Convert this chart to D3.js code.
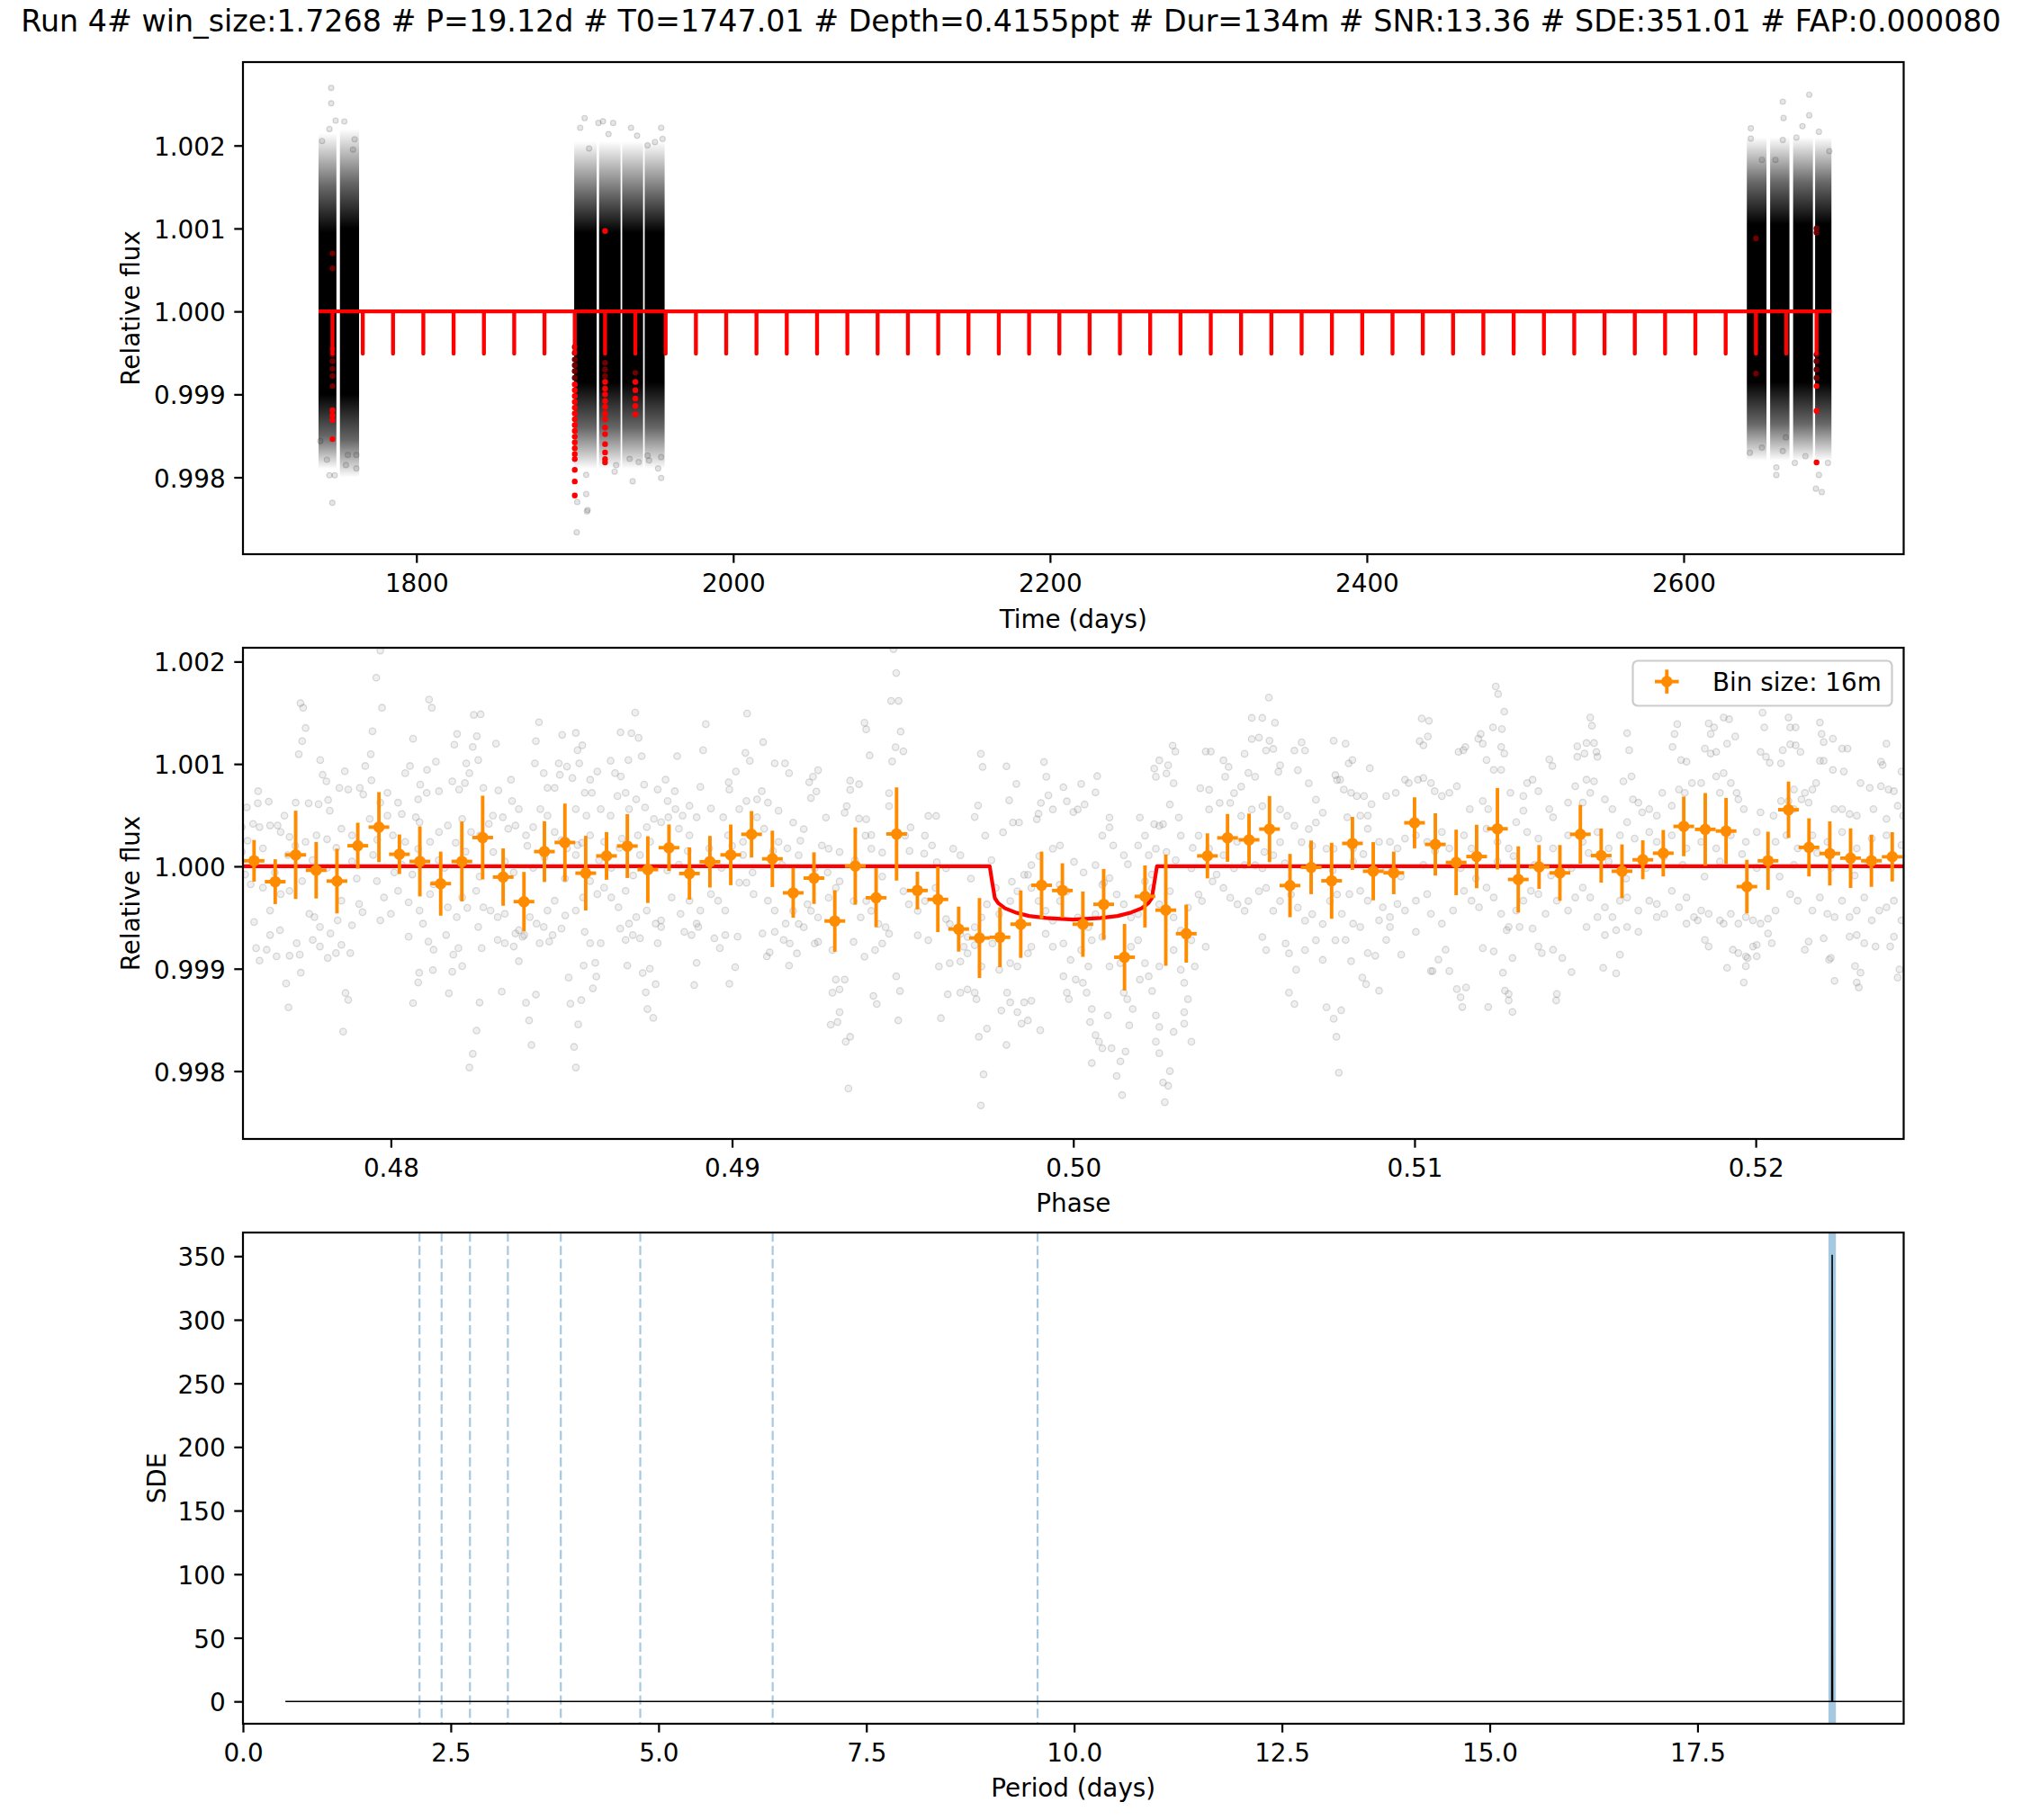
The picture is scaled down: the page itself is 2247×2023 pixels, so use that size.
<!DOCTYPE html>
<html><head><meta charset="utf-8">
<script src="https://cdn.jsdelivr.net/npm/d3@7"></script>
<style>body{margin:0;background:#fff} svg text{font-family:"DejaVu Sans",sans-serif;fill:#000}</style>
</head><body><svg id="c" width="2247" height="2023"></svg>
<script>
// ---------------- DATA ----------------
const titleText = "Run 4# win_size:1.7268 # P=19.12d # T0=1747.01 # Depth=0.4155ppt # Dur=134m # SNR:13.36 # SDE:351.01 # FAP:0.000080";

// top panel: observed blocks [tStart, tEnd, outerLo, midLo, coreLo, coreHi, midHi, outerHi] (ppm rel. to 1)
const lcBlocks = [
 [1738.2,1749.5,-1900,-1500,-1000,950,1500,2150],
 [1751.7,1763.8,-2000,-1550,-1000,1000,1550,2200],
 [1899.6,1913.8,-1900,-1400,-850,950,1400,2050],
 [1915.3,1928.9,-1900,-1400,-850,950,1400,2050],
 [1929.9,1943.1,-1900,-1400,-850,950,1400,2050],
 [1944.1,1956.7,-1900,-1400,-850,950,1400,2050],
 [2639.9,2652.3,-1800,-1350,-850,1050,1550,2100],
 [2654.6,2666.8,-1800,-1350,-850,1050,1550,2100],
 [2669.1,2681.6,-1800,-1350,-850,1050,1550,2100],
 [2683.0,2693.3,-1800,-1350,-850,1050,1550,2100]
];
// sparse outlier points [t, ppm]
const lcSparse = [
 [1746.2,2695],[1746.2,2509],[1749.0,2301],[1754.5,2290],[1740.4,2054],[1761.0,2075],[1745.1,2199],[1760.0,1950],[1746.9,-2307],[1745.1,-1976],[1748.4,-1976],[1762.1,-1893],[1755.5,-1852],[1739.3,-1562],[1762.1,-1730],[1756.7,-1730],[1743.5,-1788],
 [1906.2,2331],[1903.4,2214],[1914.9,2272],[1917.8,2292],[1924.2,2272],[1935.5,2214],[1939.3,2118],[1954.5,2214],[1955.4,2079],[1945.9,2002],[1950.6,2041],[1921.3,2137],[1909.0,1964],[1901.5,-2298],[1901.2,-2663],[1908.1,-2393],[1907.2,-2202],[1907.2,-1971],[1925.1,-1932],[1926.1,-1854],[1936.5,-2048],[1934.6,-1778],[1940.3,-1816],[1946.9,-1797],[1952.6,-1893],[1954.5,-2009],[1954.5,-1758],[1945.9,-1739],[1907.7,-2411],
 [2642.4,2208],[2642.4,2083],[2662.6,2529],[2663.1,2332],[2662.6,2067],[2679.3,2613],[2679.3,2364],[2675.0,2232],[2685.4,2166],[2692.0,1931],[2671.2,2096],[2658.0,1827],[2649.4,1827],[2641.8,-1704],[2658.5,-1972],[2658.5,-1881],[2662.6,-1683],[2670.2,-1827],[2676.9,-1745],[2683.5,-2137],[2687.2,-2178],[2685.4,-1972],[2691.1,-1827],[2649.4,-1642],[2664.5,-1519]
];
// in-transit points [t, ppm]
const lcInTransit = [
 [1747.01,700],[1747.01,520],[1747.01,-450],[1747.01,-520],[1747.01,-600],[1747.01,-690],[1747.01,-780],[1747.01,-900],[1747.01,-1190],[1747.01,-1250],[1747.01,-1310],[1747.01,-1540],
 [1899.97,-430],[1899.97,-500],[1899.97,-580],[1899.97,-650],[1899.97,-720],[1899.97,-800],[1899.97,-880],[1899.97,-950],[1899.97,-1020],[1899.97,-1090],[1899.97,-1160],[1899.97,-1230],[1899.97,-1300],[1899.97,-1370],[1899.97,-1440],[1899.97,-1510],[1899.97,-1580],[1899.97,-1650],[1899.97,-1720],[1899.97,-1780],[1899.97,-1910],[1899.97,-2050],[1899.97,-2220],
 [1919.09,970],[1919.09,-620],[1919.09,-700],[1919.09,-780],[1919.09,-850],[1919.09,-930],[1919.09,-1000],[1919.09,-1080],[1919.09,-1150],[1919.09,-1230],[1919.09,-1300],[1919.09,-1400],[1919.09,-1480],[1919.09,-1600],[1919.09,-1700],[1919.09,-1780],[1919.09,-1820],
 [1938.21,-740],[1938.21,-850],[1938.21,-950],[1938.21,-1050],[1938.21,-1140],[1938.21,-1240],
 [2645.65,880],[2645.65,-750],
 [2683.89,1000],[2683.89,950],[2683.89,-520],[2683.89,-600],[2683.89,-700],[2683.89,-800],[2683.89,-900],[2683.89,-1200],[2683.89,-1820]
];
const transitEpochs = [1747.01,1766.13,1785.25,1804.37,1823.49,1842.61,1861.73,1880.85,1899.97,1919.09,1938.21,1957.33,1976.45,1995.57,2014.69,2033.81,2052.93,2072.05,2091.17,2110.29,2129.41,2148.53,2167.65,2186.77,2205.89,2225.01,2244.13,2263.25,2282.37,2301.49,2320.61,2339.73,2358.85,2377.97,2397.09,2416.21,2435.33,2454.45,2473.57,2492.69,2511.81,2530.93,2550.05,2569.17,2588.29,2607.41,2626.53,2645.65,2664.77,2683.89];
const modelSpan = [1738.2, 2693.3];
const dipProfile = [[-0.0466,0],[-0.045,-510],[0.045,-510],[0.0466,0]]; // [dt days, ppm]

// middle panel: folded points [ (phase-0.5)*1e5 , ppm ]
const foldA = [
[-2031,2108],[-2043,1843],[-2265,1594],[-2257,1549],[-2026,1549],[-1888,1629],[-1880,1549],[-2250,1351],[-2260,1223],[-2270,1095],[-2207,1038],[-2054,1319],[-2059,1095],[-1935,1246],[-1757,1479],[-1737,1485],[-1748,1271],[-1760,1166],[-1814,1188],[-1806,1293],[-1692,1198],[-1566,1408],[-1575,1223],[-1498,1284],[-1458,1303],[-1284,1501],[-1327,1309],[-1295,1300],[-1274,1255],[-1077,1389],[-956,1492],[-909,1214],[-961,1108],[-948,1031],[-1161,1076],[-1085,1134],[-1265,1076],[-1453,1134],[-1439,1182],[-1868,1022],[-1944,980],[-1958,910],[-2200,894],[-2189,830],[-2135,929],[-2057,840],[-2075,980],[-2010,718],[-2031,622],[-2151,766],[-2125,750],[-2091,766],[-2081,702],[-2389,734],[-2390,616],[-2358,632],[-2279,622],[-2241,616],[-2212,607],[-2179,543],[-2184,648],[-2312,495],[-2332,399],[-2404,415],[-2354,399],[-2422,575],[-1979,622],[-1968,511],[-1914,798],[-1920,654],[-1895,718],[-1859,734],[-1894,942],[-1820,830],[-1800,750],[-1783,814],[-1770,910],[-1779,1006],[-1744,1038],[-1729,766],[-1685,741],[-1648,846],[-1645,638],[-1625,559],[-1701,495],[-1578,1006],[-1552,910],[-1508,1006],[-1484,974],[-1505,894],[-1468,862],[-1448,1006],[-1416,846],[-1395,926],[-1432,718],[-1411,718],[-1541,766],[-1520,766],[-1356,1031],[-1343,910],[-1326,878],[-1304,1038],[-1336,686],[-1312,718],[-1258,798],[-1218,750],[-1195,846],[-1168,734],[-1189,638],[-1166,559],[-1145,495],[-1125,591],[-1093,776],[-1062,565],[-1010,821],[-989,926],[-1008,750],[-979,559],[-958,638],[-927,654],[-913,734],[-895,622],[-864,543],[-845,1006],[-875,1006],[-833,910],[-1281,654],[-1255,575],[-1302,559],[-1385,559],[-1356,495],[-1562,559],[-1541,495],[-1458,559],[-1427,495],[-1229,463],[-1208,431],[-1187,479],[-1156,367],[-1125,303],[-1104,479],[-1067,175],[-1026,479],[-1012,303],[-968,239],[-927,479],[-906,367],[-864,239],[-838,175],[-2437,383],[-2385,383],[-2323,335],[-2297,287],[-2250,239],[-2218,303],[-2187,265],[-2145,367],[-2114,303],[-2062,463],[-2010,495],[-1994,303],[-1958,239],[-1927,479],[-1916,431],[-1885,239],[-1859,335],[-1833,399],[-1791,463],[-1765,335],[-1739,303],[-1713,415],[-1672,479],[-1656,367],[-1635,399],[-1604,303],[-1583,383],[-1520,335],[-1500,255],[-1484,175],[-1453,207],[-1416,303],[-1375,239],[-1323,271],[-1276,303],[-1250,383],
[-2427,-80],[-2411,-176],[-2375,-208],[-2354,-432],[-2323,-272],[-2297,-240],[-2260,-144],[-2239,-464],[-2224,-496],[-2208,-592],[-2177,-656],[-2156,-528],[-2145,-336],[-2114,-576],[-2093,-368],[-2083,-448],[-2041,-144],[-2031,-528],[-2020,-304],[-2000,-464],[-1979,-240],[-1948,-352],[-1937,-80],[-1916,-432],[-1906,-560],[-1885,-272],[-1875,-176],[-1833,-400],[-1807,-496],[-1791,-304],[-1776,-406],[-1750,-240],[-1729,-400],[-1708,-432],[-1687,-496],[-1666,-464],[-1635,-656],[-1625,-624],[-1609,-672],[-1593,-496],[-1573,-560],[-1552,-592],[-1541,-432],[-1520,-336],[-1489,-480],[-1458,-432],[-1437,-304],[-1416,-144],[-1395,-272],[-1375,-208],[-1354,-304],[-1333,-400],[-1312,-240],[-1302,-560],[-1281,-496],[-1250,-432],[-1224,-560],[-1208,-528],[-1177,-304],[-1151,-464],[-1125,-336],[-1104,-560],[-1093,-432],[-1062,-272],[-1041,-336],[-1020,-432],[-979,-160],[-958,-160],[-937,-272],[-895,-336],[-875,-432],[-843,-560],
[-2401,-544],[-2354,-671],[-2325,-624],[-2276,-751],[-2229,-719],[-2208,-783],[-2185,-895],[-2161,-847],[-2145,-767],[-2119,-847],[-2395,-799],[-2385,-921],[-2364,-815],[-2335,-879],[-2297,-873],[-2267,-863],[-1948,-687],[-1890,-735],[-1875,-815],[-1838,-671],[-1817,-863],[-1791,-975],[-1802,-799],[-1744,-592],[-1734,-799],[-1687,-719],[-1666,-751],[-1640,-783],[-1625,-927],[-1614,-687],[-1564,-751],[-1536,-735],[-1526,-671],[-1500,-608],[-1432,-640],[-1416,-751],[-1401,-943],[-1385,-751],[-1328,-608],[-1312,-719],[-1291,-671],[-1270,-703],[-1218,-751],[-1208,-592],[-1140,-640],[-1119,-671],[-1099,-592],[-1052,-703],[-1036,-799],[-1020,-671],[-984,-687],[-911,-656],[-875,-640],[-849,-719],
[-2307,-1144],[-2300,-1378],[-2140,-1614],[-2133,-1237],[-2125,-1304],[-2264,-1039],[-1935,-1336],[-1920,-1135],[-1917,-1039],[-1877,-1013],[-1830,-1240],[-1820,-1029],[-1740,-1330],[-1749,-1604],[-1760,-1831],[-1770,-1965],[-1675,-1224],[-1604,-1333],[-1575,-1253],[-1595,-1505],[-1588,-1745],[-1474,-1342],[-1442,-1307],[-1451,-1544],[-1463,-1764],[-1458,-1965],[-1479,-1087],[-1408,-1192],[-1398,-1077],[-1253,-1231],[-1248,-1394],[-1231,-1480],[-1224,-1151],[-1262,-1042],[-1241,-1000],[-1111,-1160],[-1104,-943],[-1008,-1147],[-991,-985],[-1307,-969],[-1435,-969],[-898,-879],[-890,-840],[-833,-969],
[-2437,143],[-2375,175],[-2302,111],[-2187,-16],[-2114,48],[-2052,111],[-1968,16],[-1843,-16],[-1781,143],[-1666,48],[-1583,-16],[-1458,111],[-1354,-16],[-1270,111],[-1156,16],[-1031,-16],[-968,111],[-854,16],
[-2420,250],[-2340,-60],[-2280,200],[-2230,60],[-2160,180],[-2100,-120],[-2040,260],[-1990,-60],[-1920,170],[-1860,60],[-1810,230],[-1740,-100],[-1700,140],[-1640,-60],[-1600,200],[-1550,90],[-1490,-120],[-1440,230],[-1390,60],[-1330,180],[-1290,-90],[-1240,240],[-1190,-40],[-1130,150],[-1070,60],[-1000,200],[-940,-60],[-880,150]
];
const foldB = [
[-527,2121],[-519,1888],[-534,1616],[-512,1616],[-612,1402],[-607,1338],[-506,1316],[-521,1163],[-498,1124],[-531,1025],[-597,1083],[-271,1099],[-266,971],[-196,977],[-86,1019],[-79,875],[-167,805],[-188,645],[-279,594],[-289,482],[65,722],[70,881],[23,805],[-29,773],[-73,693],[-95,619],[-60,556],[-19,635],[0,530],[33,604],[13,556],[-102,514],[-107,460],[-159,428],[-177,428],[106,476],[195,476],[237,412],[263,412],[309,476],[283,604],[294,811],[273,907],[278,987],[252,1035],[237,955],[242,875],[291,1179],[299,1121],[388,1121],[403,1121],[372,763],[398,747],[440,1035],[445,875],[455,971],[471,715],[492,779],[513,913],[533,875],[502,1099],[523,1243],[544,1258],[554,1450],[523,1450],[573,1648],[591,1402],[575,1227],[586,1147],[565,1131],[606,987],[601,923],[648,1131],[669,1211],[679,1131],[658,939],[690,811],[711,651],[731,524],[763,1227],[768,891],[773,843],
[-748,939],[-763,875],[-774,821],[-753,731],[-769,667],[-654,837],[-628,802],[-654,747],[-725,476],[-664,588],[-670,524],[-628,466],[-607,460],[-592,306],[-609,300],[-821,428],[-790,364],[-805,108],[-737,204],[-717,172],[-758,-20],[-685,140],[-592,172],[-560,134],[-540,588],[-540,715],[-493,300],[-477,380],[-425,492],[-402,492],[-435,300],[-414,204],[-437,124],[-352,172],[-331,108],[-373,-20],
[-258,300],[-206,332],[-133,-83],[-123,12],[-60,172],[-39,204],[2,44],[65,12],[85,300],[106,380],[117,204],[148,108],[190,204],[210,300],[221,108],[242,172],[252,396],[273,140],[315,300],
[367,300],[398,556],[429,619],[460,619],[492,492],[523,556],[554,588],[606,556],[627,492],[648,396],[690,364],[711,428],[742,172],[669,236],[606,236],[586,108],[554,-20],[533,12],[502,12],[471,-20],[440,108],[398,172],[346,-20],[763,172],
[-821,-435],[-805,-563],[-779,-371],[-769,-435],[-748,-499],[-717,-307],[-696,-211],[-685,-147],[-644,-339],[-623,-499],[-607,-339],[-592,-435],[-571,-563],[-550,-595],[-540,-659],[-498,-243],[-482,-371],[-456,-435],[-435,-339],[-404,-211],[-373,-515],[-362,-563],[-331,-659],[-321,-786],[-310,-690],[-289,-595],[-269,-499],[-253,-371],[-217,-467],[-227,-211],[-185,-339],[-164,-243],[-144,-83],[-123,-211],[-102,-339],[-81,-435],[-60,-531],[-39,-339],[-19,-243],[13,-499],[44,-595],[65,-467],[85,-179],[106,-115],[127,-275],[148,-371],[169,-499],[190,-467],[210,-147],[231,-211],[252,-371],[283,-243],[294,-499],[315,-627],[336,-403],[367,-275],[377,-339],[408,-147],[440,-211],[460,-307],[481,-371],[502,-435],[513,-339],[544,-243],[565,-211],[586,-435],[606,-339],[638,-275],[658,-403],[679,-531],[700,-467],[731,-563],[752,-339],[773,-275],
[-831,-754],[-810,-850],[-790,-595],[-758,-754],[-748,-738],[-706,-818],[-644,-738],[-612,-882],[-581,-818],[-560,-754],[-456,-674],[-425,-722],[-394,-978],[-362,-946],[-331,-930],[-310,-850],[-289,-770],[-269,-978],[-237,-754],[-217,-1010],[-185,-946],[-164,-978],[-133,-850],[-123,-786],[-81,-659],[-60,-786],[-29,-754],[-8,-914],[23,-818],[44,-978],[54,-722],[85,-690],[106,-978],[138,-946],[169,-786],[190,-722],[210,-946],[252,-978],[294,-818],[315,-1010],[346,-722],[388,-786],[554,-690],[565,-818],[622,-754],[632,-850],[679,-818],[711,-722],[731,-914],[768,-722],
[-696,-1106],[-685,-1202],[-706,-1234],[-670,-1106],[-586,-1266],[-576,-1345],[-508,-1218],[-519,-1074],[-685,-1425],[-691,-1521],[-711,-1547],[-654,-1665],[-667,-1713],[-659,-2170],[-513,-1505],[-388,-1483],[-368,-1250],[-331,-1234],[-310,-1202],[-289,-1234],[-284,-1298],[-253,-1585],[-277,-1665],[-194,-1234],[-185,-1329],[-211,-1409],[-164,-1425],[-144,-1329],[-123,-1313],[-133,-1505],[-152,-1537],[-97,-1601],[-196,-1745],[-263,-2032],[-271,-2336],[-29,-1074],[-19,-1234],[-13,-1298],[7,-1106],[28,-1138],[39,-1234],[54,-1393],[49,-1521],[65,-1649],[75,-1713],[85,-1777],[112,-1777],[101,-1457],[54,-1921],[148,-1234],[158,-1298],[174,-1393],[164,-1553],[153,-1809],[138,-1905],[127,-2048],[143,-2234],[195,-1106],[221,-1074],[231,-1218],[242,-1457],[252,-1569],[242,-1713],[252,-1825],[294,-1617],[283,-2000],[263,-2112],[278,-2144],[268,-2304],[325,-1138],[336,-1298],[325,-1425],[346,-1713],[325,-1537],[356,-978],[742,-1377],[763,-1489],[771,-1665],[778,-2016],[632,-1234],[648,-1345],[653,-1010],
[-800,250],[-720,-60],[-640,60],[-560,-100],[-480,150],[-400,40],[-300,-120],[-240,60],[-180,-150],[-100,100],[-40,-180],[30,-60],[90,-160],[160,20],[230,-80],[300,60],[350,180],[420,-80],[480,240],[560,140],[620,30],[700,200],[760,-40]
];
const foldC = [
[1238,1757],[1245,1683],[1263,1511],[1230,1357],[1256,1341],[1021,1444],[1042,1421],[1015,1223],[1039,1268],[1026,1182],[798,1198],[807,1006],[818,1038],[869,958],[1129,1118],[1143,1134],[1149,1166],[1194,1293],[1187,1246],[1200,1198],[1211,1038],[1254,1166],[1263,1102],[1395,1044],[1404,980],[1477,1172],[1504,1204],[1526,1204],[1533,1118],[1498,1102],[1477,1070],[1515,1453],[1520,1373],[1623,1300],[1629,1134],[1636,878],[1612,830],[1536,1070],[1770,1389],[1762,1293],[1756,1166],[1781,1038],[1797,1022],[1862,1396],[1868,1293],[1878,1357],[1906,1453],[1922,1437],[1940,1268],[1916,1198],[1851,1150],[1868,1102],[1884,1118],[1906,910],[1884,878],[1927,814],[1944,718],[1949,654],[2020,1501],[2025,1357],[2101,1357],[2117,1357],[2096,1453],[2101,1191],[2117,1182],[2131,1118],[2079,1134],[2014,1118],[2030,1070],[2041,1012],[2074,1006],[2188,1405],[2193,1293],[2199,1214],[2226,1246],[2253,1150],[2269,1150],[2199,1031],[2188,1031],[2226,942],[2258,926],[2383,1198],[2367,1022],[2372,990],[2427,926],[2307,814],[2334,766],[2367,782],[2389,750],[2405,734],[2177,814],[2166,750],[2144,718],[2134,654],[2155,622],[2231,559],[2253,559],[2275,511],[2296,495],[2345,559],[2383,463],[2416,591],[2432,495],
[782,846],[793,750],[814,718],[831,686],[852,686],[874,607],[863,495],[841,495],[803,479],[917,686],[945,718],[972,846],[983,814],[1010,846],[1026,862],[1048,814],[1059,734],[1080,686],[1102,718],[1124,782],[1162,559],[1200,638],[1216,559],[1232,942],[1254,942],[1281,718],[1319,543],[1319,686],[1330,814],[1363,734],[1346,846],[1395,559],[1406,479],[1450,622],[1471,782],[1504,846],[1526,830],[1515,718],[1493,622],[1558,654],[1580,559],[1623,431],[1640,654],[1656,622],[1667,527],[1688,559],[1710,495],[1726,718],[1754,591],[1775,750],[1792,718],[1813,814],[1840,814],[1895,718],[1965,559],[2014,527],[2052,495],[2074,638],[2112,750],[2096,638],[2112,559],
[820,175],[863,367],[896,239],[928,239],[950,175],[972,271],[1004,303],[1037,239],[1080,335],[1102,175],[1145,303],[1167,175],[1211,367],[1243,239],[1276,175],[1298,431],[1330,335],[1363,271],[1406,175],[1450,303],[1493,239],[1536,335],[1569,175],[1602,303],[1645,271],[1688,335],[1710,239],[1754,303],[1797,175],[1840,239],[1884,175],[1927,303],[1971,239],[2003,335],[2058,239],[2090,303],[2123,175],[2166,303],[2210,239],[2253,335],[2296,175],[2340,271],[2383,303],[2427,207],[820,47],[917,-17],[1026,15],[1135,-17],[1243,47],[1352,15],[1460,-17],[1569,47],[1678,-17],[1786,15],[1895,47],[2003,-17],[2112,15],[2220,-17],[2329,15],
[809,-272],[841,-240],[863,-336],[907,-400],[928,-496],[950,-368],[787,-464],[820,-560],[798,-719],[841,-592],[896,-528],[928,-592],[972,-432],[1004,-336],[1037,-272],[1048,-464],[1080,-560],[1113,-432],[1145,-240],[1167,-336],[1189,-400],[1211,-208],[1232,-304],[1254,-464],[1276,-592],[1298,-432],[1319,-336],[1341,-240],[1363,-272],[1384,-464],[1417,-336],[1450,-432],[1471,-304],[1493,-208],[1515,-304],[1536,-496],[1558,-400],[1580,-496],[1602,-336],[1623,-304],[1656,-432],[1688,-336],[1710,-368],[1732,-464],[1754,-240],[1775,-400],[1797,-304],[1819,-496],[1840,-432],[1862,-464],[1895,-528],[1927,-464],[1949,-560],[1971,-496],[1992,-528],[2014,-560],[2036,-512],[2058,-432],[2101,-272],[2123,-336],[2166,-432],[2188,-304],[2210,-464],[2231,-496],[2253,-336],[2275,-496],[2296,-432],[2318,-304],[2340,-528],[2362,-432],[2383,-400],[2405,-336],[2427,-528],
[863,-847],[885,-873],[917,-719],[961,-863],[1004,-640],[1070,-911],[1091,-815],[1102,-1023],[1053,-1023],[1200,-799],[1232,-831],[1270,-624],[1287,-895],[1308,-592],[1346,-608],[1363,-783],[1373,-847],[1406,-815],[1433,-895],[1504,-592],[1558,-671],[1591,-624],[1623,-592],[1656,-640],[1710,-496],[1797,-560],[1830,-528],[1851,-719],[1862,-783],[1906,-560],[1933,-815],[1949,-847],[1971,-879],[1992,-783],[2003,-767],[2036,-656],[2047,-751],[2144,-815],[2155,-735],[2199,-703],[2220,-895],[2275,-687],[2296,-671],[2318,-751],[2351,-783],[2394,-783],[2405,-687],
[785,-1406],[847,-1087],[858,-1151],[896,-1215],[814,-927],[1048,-1023],[1124,-1199],[1135,-1279],[1151,-1183],[1140,-1374],[1259,-1039],[1265,-1215],[1276,-1247],[1276,-1310],[1287,-1422],[1216,-1374],[1417,-1247],[1415,-1310],[1460,-1033],[1553,-991],[1591,-1045],[1602,-863],[1916,-991],[1965,-1135],[1971,-975],[1976,-895],[2003,-879],[2215,-911],[2231,-1119],[2291,-975],[2296,-1135],[2307,-1039],[2302,-1183],[2416,-1087],[2421,-1007],
[850,120],[960,-100],[1060,150],[1180,-120],[1290,100],[1400,-90],[1510,130],[1620,-120],[1730,90],[1850,-100],[1960,120],[2070,-100],[2180,130],[2290,-90],[2400,110]
];
// binned points: phase, ppm, error (ppm)
const binPhase = [0.47599,0.47661,0.47721,0.47781,0.47842,0.47903,0.47965,0.48025,0.48085,0.48146,0.48208,0.48269,0.48329,0.48390,0.48450,0.48510,0.48571,0.48632,0.48693,0.48753,0.48815,0.48875,0.48935,0.48996,0.49057,0.49118,0.49179,0.49240,0.49301,0.49361,0.49422,0.49482,0.49543,0.49603,0.49664,0.49725,0.49785,0.49846,0.49907,0.49968,0.50028,0.50089,0.50150,0.50210,0.50271,0.50331,0.50393,0.50452,0.50515,0.50575,0.50635,0.50697,0.50757,0.50818,0.50879,0.50939,0.51000,0.51061,0.51122,0.51182,0.51243,0.51304,0.51365,0.51426,0.51486,0.51547,0.51608,0.51669,0.51729,0.51789,0.51852,0.51913,0.51974,0.52036,0.52096,0.52156,0.52217,0.52278,0.52339,0.52400];
const binFlux = [54,-150,112,-38,-144,201,383,118,48,-169,48,281,-105,-345,144,233,-67,102,198,-32,182,-70,45,112,313,73,-259,-115,-534,3,-307,316,-236,-323,-613,-700,-693,-565,-185,-236,-565,-371,-888,-294,-428,-658,102,278,259,364,-188,-10,-141,224,-48,-64,425,214,38,96,367,-128,-6,-64,313,105,-48,64,128,390,361,345,-198,54,553,185,125,80,54,93];
const binErr = [203,219,431,276,316,225,342,193,342,313,390,409,280,290,297,380,364,233,312,326,227,255,252,296,227,275,243,252,300,377,288,455,184,319,220,390,292,329,329,266,319,345,325,303,543,283,220,233,256,323,309,262,371,259,284,208,249,304,320,310,398,323,214,272,287,264,262,190,227,291,355,323,262,284,275,284,313,291,255,240];
const binHalfWidth = 0.000304;
// folded model
const modelPhase = [0.475665,0.49755,0.49762,0.49770,0.49780,0.49800,0.49830,0.49870,0.49920,0.50000,0.50080,0.50130,0.50170,0.50200,0.50220,0.50230,0.50238,0.50245,0.524335];
const modelFlux = [0,0,-150,-310,-360,-410,-450,-485,-505,-520,-505,-485,-450,-410,-360,-310,-150,0,0];
const legendLabel = "Bin size: 16m";

// bottom panel
const sdePeriod = [0.51, 19.115, 19.12, 19.125, 19.96];
const sdeValue = [0, 0, 351.01, 0, 0];
const bestPeriod = 19.12;
const harmonics = [2.124, 2.390, 2.731, 3.187, 3.824, 4.780, 6.373, 9.560];

const topXTicks = [1800,2000,2200,2400,2600];
const fluxTicks = [0.998,0.999,1.000,1.001,1.002];
const phaseTicks = [0.48,0.49,0.50,0.51,0.52];
const periodTicks = [0,2.5,5,7.5,10,12.5,15,17.5];
const sdeTicks = [0,50,100,150,200,250,300,350];

// ---------------- LAYOUT ----------------
const L = 270, R = 2115.5;
const P1 = [69, 616], P2 = [720, 1266], P3 = [1370, 1916];
const FS = 27.8;
const svg = d3.select('#c');
const defs = svg.append('defs');
function clip(id, top, bot){ defs.append('clipPath').attr('id',id).append('rect').attr('x',L).attr('y',top).attr('width',R-L).attr('height',bot-top); }
clip('cT',P1[0],P1[1]); clip('cM',P2[0],P2[1]); clip('cB',P3[0],P3[1]);

const xT = d3.scaleLinear().domain([1690.5, 2738.9]).range([L,R]);
const yT = d3.scaleLinear().domain([0.997073, 1.003006]).range([P1[1],P1[0]]);
const xM = d3.scaleLinear().domain([0.475665, 0.524335]).range([L,R]);
const yM = d3.scaleLinear().domain([0.997337, 1.002135]).range([P2[1],P2[0]]);
const xB = d3.scaleLinear().domain([0, 19.98]).range([L,R]);
const yB = d3.scaleLinear().domain([-17.55, 368.56]).range([P3[1],P3[0]]);
const ppm = v => 1 + v/1e6;

// title
svg.append('text').attr('x',1123.5).attr('y',34.5).attr('text-anchor','middle').attr('font-size',33.3).text(titleText);

// ---------- top panel ----------
const gT = svg.append('g').attr('clip-path','url(#cT)');
lcBlocks.forEach((b,i)=>{
  const yTop = yT(ppm(b[7])), yBot = yT(ppm(b[2]));
  const off = v => (yT(ppm(v)) - yTop)/(yBot - yTop);
  const gr = defs.append('linearGradient').attr('id','bg'+i).attr('gradientUnits','userSpaceOnUse')
     .attr('x1',0).attr('x2',0).attr('y1',yTop).attr('y2',yBot);
  [[b[7],0.0],[b[6],0.6],[b[5],1],[b[4],1],[b[3],0.6],[b[2],0.0]].forEach(s=>{
     gr.append('stop').attr('offset',off(s[0])).attr('stop-color','#000').attr('stop-opacity',s[1]);
  });
  gT.append('rect').attr('x',xT(b[0])).attr('width',xT(b[1])-xT(b[0]))
    .attr('y',yTop).attr('height',yBot-yTop).attr('fill','url(#bg'+i+')');
});
gT.selectAll('circle.sp').data(lcSparse).join('circle').attr('class','sp')
  .attr('cx',d=>xT(d[0])).attr('cy',d=>yT(ppm(d[1]))).attr('r',3)
  .attr('fill','#000').attr('fill-opacity',0.1).attr('stroke','#000').attr('stroke-opacity',0.14).attr('stroke-width',1.2);
function inCore(d){ return lcBlocks.some(b=> d[0]>=b[0]-0.5 && d[0]<=b[1]+0.5 && d[1]>b[4] && d[1]<b[5]); }
gT.selectAll('circle.it').data(lcInTransit).join('circle').attr('class','it')
  .attr('cx',d=>xT(d[0])).attr('cy',d=>yT(ppm(d[1]))).attr('r',3.2)
  .attr('fill',d=> inCore(d) ? '#6e0000' : '#ff0000');
const modelPts = [[modelSpan[0],0]];
transitEpochs.forEach(e=> dipProfile.forEach(p=> modelPts.push([e+p[0], p[1]])));
modelPts.push([modelSpan[1],0]);
gT.append('path').datum(modelPts).attr('fill','none').attr('stroke','#ff0000').attr('stroke-width',4.2)
  .attr('stroke-linejoin','round')
  .attr('d', d3.line().x(d=>xT(d[0])).y(d=>yT(ppm(d[1]))));

// ---------- middle panel ----------
const gM = svg.append('g').attr('clip-path','url(#cM)');
const folded = foldA.concat(foldB, foldC);
gM.selectAll('circle.g').data(folded).join('circle').attr('class','g')
  .attr('cx',d=>xM(0.5 + d[0]/1e5)).attr('cy',d=>yM(ppm(d[1]))).attr('r',3.7)
  .attr('fill','#808080').attr('fill-opacity',0.13).attr('stroke','#808080').attr('stroke-opacity',0.28).attr('stroke-width',1.3);
gM.append('path').datum(modelPhase.map((p,i)=>[p, modelFlux[i]])).attr('fill','none')
  .attr('stroke','#ff0000').attr('stroke-width',4.2).attr('stroke-linejoin','round')
  .attr('d', d3.line().x(d=>xM(d[0])).y(d=>yM(ppm(d[1]))));
const bins = binPhase.map((p,i)=>({p, f:binFlux[i], e:binErr[i]}));
const OR = '#ff8c00';
const gBin = gM.append('g');
gBin.selectAll('line.v').data(bins).join('line').attr('class','v')
  .attr('x1',d=>xM(d.p)).attr('x2',d=>xM(d.p)).attr('y1',d=>yM(ppm(d.f-d.e))).attr('y2',d=>yM(ppm(d.f+d.e)))
  .attr('stroke',OR).attr('stroke-width',3.9);
gBin.selectAll('line.h').data(bins).join('line').attr('class','h')
  .attr('x1',d=>xM(d.p-binHalfWidth)).attr('x2',d=>xM(d.p+binHalfWidth)).attr('y1',d=>yM(ppm(d.f))).attr('y2',d=>yM(ppm(d.f)))
  .attr('stroke',OR).attr('stroke-width',3.9);
gBin.selectAll('circle').data(bins).join('circle')
  .attr('cx',d=>xM(d.p)).attr('cy',d=>yM(ppm(d.f))).attr('r',6.3).attr('fill',OR);

// legend
const lg = svg.append('g');
lg.append('rect').attr('x',1814.5).attr('y',734.5).attr('width',288).attr('height',50).attr('rx',5.5)
  .attr('fill','#fff').attr('fill-opacity',0.8).attr('stroke','#cccccc').attr('stroke-width',2.2);
lg.append('line').attr('x1',1852.3).attr('x2',1852.3).attr('y1',744.3).attr('y2',770.9).attr('stroke',OR).attr('stroke-width',3.9);
lg.append('line').attr('x1',1839).attr('x2',1865.6).attr('y1',757.6).attr('y2',757.6).attr('stroke',OR).attr('stroke-width',3.9);
lg.append('circle').attr('cx',1852.3).attr('cy',757.6).attr('r',6.3).attr('fill',OR);
lg.append('text').attr('x',1903).attr('y',767.5).attr('font-size',FS).text(legendLabel);

// ---------- bottom panel ----------
const gB = svg.append('g').attr('clip-path','url(#cB)');
gB.selectAll('line.hm').data(harmonics).join('line').attr('class','hm')
  .attr('x1',d=>xB(d)).attr('x2',d=>xB(d)).attr('y1',P3[0]).attr('y2',P3[1])
  .attr('stroke','#1f77b4').attr('stroke-opacity',0.4).attr('stroke-width',2.2).attr('stroke-dasharray','10.3,4.4');
gB.append('line').attr('x1',xB(bestPeriod)).attr('x2',xB(bestPeriod)).attr('y1',P3[0]).attr('y2',P3[1])
  .attr('stroke','#1f77b4').attr('stroke-opacity',0.4).attr('stroke-width',8.3);
gB.append('path').datum(sdePeriod.map((p,i)=>[p,sdeValue[i]])).attr('fill','none').attr('stroke','#000').attr('stroke-width',1.6)
  .attr('d', d3.line().x(d=>xB(d[0])).y(d=>yB(d[1])));

// ---------- axes ----------
function axes(xs, ys, top, bot, xt, xf, yt, yf){
  const gx = svg.append('g').attr('transform',`translate(0,${bot})`)
    .call(d3.axisBottom(xs).tickValues(xt).tickFormat(xf).tickSize(9.7).tickPadding(9.7).tickSizeOuter(0));
  const gy = svg.append('g').attr('transform',`translate(${L},0)`)
    .call(d3.axisLeft(ys).tickValues(yt).tickFormat(yf).tickSize(9.7).tickPadding(9.7).tickSizeOuter(0));
  [gx,gy].forEach(g=>{
    g.select('.domain').remove();
    g.selectAll('line').attr('stroke','#000').attr('stroke-width',2.2);
    g.selectAll('text').attr('font-size',FS).attr('font-family','DejaVu Sans').attr('fill','#000');
  });
  gx.selectAll('text').attr('dy','0.83em');
  gy.selectAll('text').attr('dy','0.38em');
  svg.append('rect').attr('x',L).attr('y',top).attr('width',R-L).attr('height',bot-top)
    .attr('fill','none').attr('stroke','#000').attr('stroke-width',2.2);
}
axes(xT, yT, P1[0], P1[1], topXTicks, d3.format('d'), fluxTicks, d3.format('.3f'));
axes(xM, yM, P2[0], P2[1], phaseTicks, d3.format('.2f'), fluxTicks, d3.format('.3f'));
axes(xB, yB, P3[0], P3[1], periodTicks, d3.format('.1f'), sdeTicks, d3.format('d'));

// axis labels
const cx = (L+R)/2;
function xlabel(t,y){ svg.append('text').attr('x',cx).attr('y',y).attr('text-anchor','middle').attr('font-size',FS).text(t); }
function ylabel(t,x,yc){ svg.append('text').attr('transform',`translate(${x},${yc}) rotate(-90)`).attr('text-anchor','middle').attr('font-size',FS).text(t); }
xlabel('Time (days)', 698);
xlabel('Phase', 1347);
xlabel('Period (days)', 1997);
ylabel('Relative flux', 155, (P1[0]+P1[1])/2);
ylabel('Relative flux', 155, (P2[0]+P2[1])/2);
ylabel('SDE', 184, (P3[0]+P3[1])/2);
</script></body></html>
